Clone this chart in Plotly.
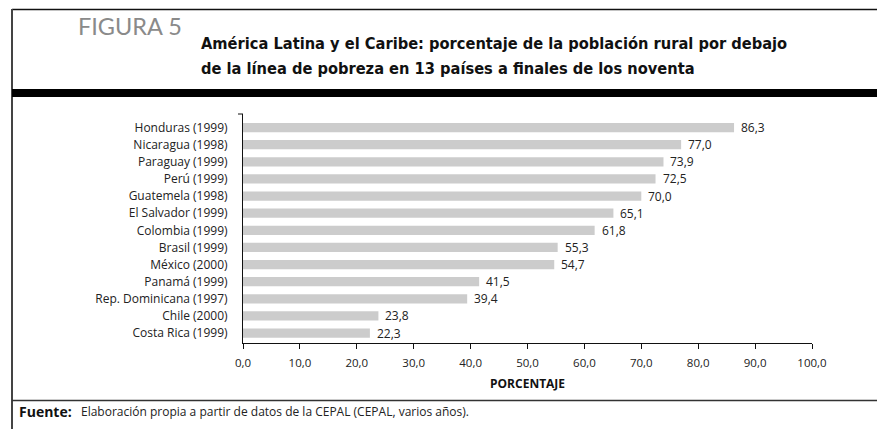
import plotly.graph_objects as go

paises = ['Honduras (1999)', 'Nicaragua (1998)', 'Paraguay (1999)', 'Perú (1999)',
          'Guatemela (1998)', 'El Salvador (1999)', 'Colombia (1999)', 'Brasil (1999)',
          'México (2000)', 'Panamá (1999)', 'Rep. Dominicana (1997)', 'Chile (2000)',
          'Costa Rica (1999)']
pobreza = [86.3, 77.0, 73.9, 72.5, 70.0, 65.1, 61.8, 55.3, 54.7, 41.5, 39.4, 23.8, 22.3]
x_ticks = [0, 10, 20, 30, 40, 50, 60, 70, 80, 90, 100]

W, H = 877, 429
L, R, T, B = 243, 812, 114, 343  # plot area in pixels


def px(x):
    return (x - L) / (R - L)


def py(y):
    return (B - y) / (B - T)


FONT = 'Open Sans'

fig = go.Figure()
fig.add_trace(go.Bar(
    y=paises, x=pobreza, orientation='h',
    marker=dict(color='#cccccc', line=dict(width=0)),
    width=0.54,
    hoverinfo='skip',
))

# value labels next to each bar end
labels = [dict(x=v, y=p, xref='x', yref='y', text=f"{v:.1f}".replace('.', ','),
               xanchor='left', yanchor='middle', xshift=5, showarrow=False,
               font=dict(family=FONT, size=12, color='#222222'))
          for p, v in zip(paises, pobreza)]

shapes = [
    # frame
    dict(type='line', xref='paper', yref='paper', x0=px(12), x1=px(W + 5), y0=py(9.5), y1=py(9.5),
         line=dict(color='#111111', width=1.5)),
    dict(type='line', xref='paper', yref='paper', x0=px(12), x1=px(12), y0=py(9), y1=py(H + 5),
         line=dict(color='#444444', width=2)),
    # thick band under title
    dict(type='rect', xref='paper', yref='paper', x0=px(12), x1=px(W + 5), y0=py(89), y1=py(97),
         fillcolor='#000000', line=dict(width=0)),
    # separator above source
    dict(type='line', xref='paper', yref='paper', x0=px(12), x1=px(W + 5), y0=py(400.5), y1=py(400.5),
         line=dict(color='#333333', width=1.5)),
    # small tick at top of y axis
    dict(type='line', xref='paper', yref='paper', x0=px(238), x1=px(243), y0=1, y1=1,
         line=dict(color='#111111', width=1)),
]

annotations = labels + [
    dict(text='FIGURA 5', x=px(76), y=py(26), xref='paper', yref='paper', xanchor='left',
         yanchor='middle', showarrow=False, font=dict(family='Lato', size=23.5, color='#8a8a8a')),
    dict(text='<b>América Latina y el Caribe: porcentaje de la población rural por debajo</b>',
         x=px(199), y=py(43), xref='paper', yref='paper', xanchor='left', yanchor='middle',
         showarrow=False, font=dict(family='DejaVu Sans Condensed', size=16.3, color='#111111')),
    dict(text='<b>de la línea de pobreza en 13 países a finales de los noventa</b>',
         x=px(199), y=py(68), xref='paper', yref='paper', xanchor='left', yanchor='middle',
         showarrow=False, font=dict(family='DejaVu Sans Condensed', size=16.3, color='#111111')),
    dict(text='<b>PORCENTAJE</b>', x=px(527), y=py(383), xref='paper', yref='paper',
         xanchor='center', yanchor='middle', showarrow=False,
         font=dict(family=FONT, size=12, color='#111111')),
    dict(text='<b>Fuente:</b>', x=px(17), y=py(411), xref='paper', yref='paper',
         xanchor='left', yanchor='middle', showarrow=False,
         font=dict(family=FONT, size=14, color='#111111')),
    dict(text='Elaboración propia a partir de datos de la CEPAL (CEPAL, varios años).',
         x=px(79), y=py(411), xref='paper', yref='paper', xanchor='left', yanchor='middle',
         showarrow=False, font=dict(family=FONT, size=12, color='#222222')),
]

fig.update_layout(
    width=W, height=H,
    margin=dict(l=L, r=W - R, t=T, b=H - B, pad=0),
    paper_bgcolor='white', plot_bgcolor='white',
    showlegend=False,
    separators=',.',
    shapes=shapes, annotations=annotations,
    font=dict(family=FONT, size=11, color='#222222'),
)
fig.update_xaxes(
    range=[0, 100], tickvals=x_ticks, tickformat='.1f',
    showline=True, linecolor='#111111', linewidth=1,
    ticks='outside', ticklen=5, tickcolor='#111111', tickwidth=1,
    ticklabelstandoff=4,
    showgrid=False, zeroline=False,
    tickfont=dict(family=FONT, size=11.5, color='#222222'),
)
fig.update_yaxes(
    categoryorder='array', categoryarray=paises,
    range=[len(paises) - 1 + 0.58, -0.79],
    showline=True, linecolor='#111111', linewidth=1,
    ticks='', showgrid=False, zeroline=False,
    ticklabelstandoff=12,
    tickfont=dict(family=FONT, size=12, color='#222222'),
)

# the page body has a default 8px margin; drop it so the figure fills the window
fig.write_html("out.html", config={'displayModeBar': False},
               post_script="document.body.style.margin='0';")
